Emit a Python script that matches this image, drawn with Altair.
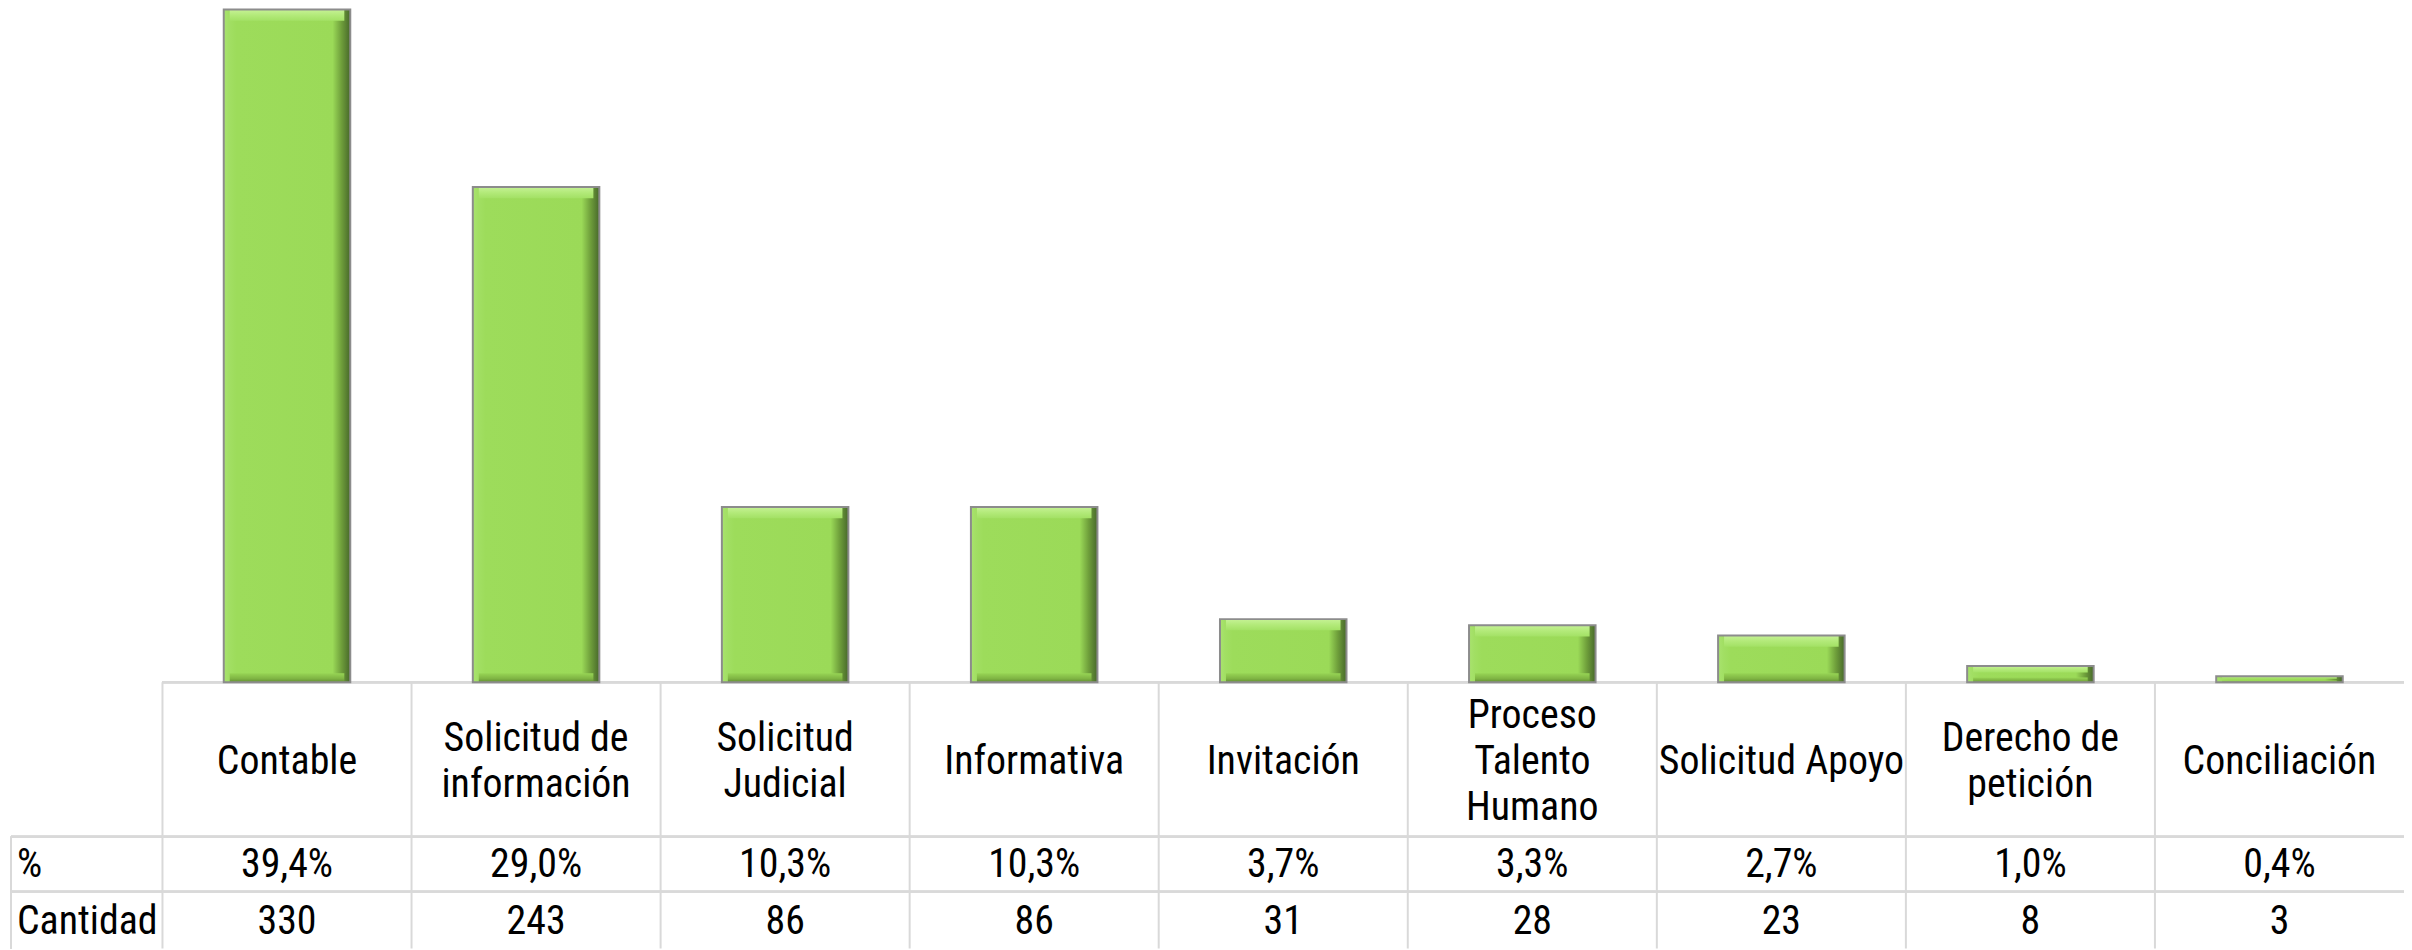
import altair as alt
import pandas as pd

# ---- data ----
categorias = [
    "Contable",
    "Solicitud de\ninformación",
    "Solicitud\nJudicial",
    "Informativa",
    "Invitación",
    "Proceso\nTalento\nHumano",
    "Solicitud Apoyo",
    "Derecho de\npetición",
    "Conciliación",
]
porcentajes = ["39,4%", "29,0%", "10,3%", "10,3%", "3,7%", "3,3%", "2,7%", "1,0%", "0,4%"]
cantidades = [330, 243, 86, 86, 31, 28, 23, 8, 3]
filas = ["%", "Cantidad"]

df = pd.DataFrame({"cat": categorias, "pct": porcentajes, "n": cantidades})

# ---- layout ----
W, H = 2249, 942
PAD_L = 155
AXIS_Y = 675
HDR_BOT = 830
PCT_BOT = 885
LEFT = -152
FONT = "Roboto Condensed"
FS = 40
LH = 46
GRID = "#d9d9d9"

xs = alt.Scale(domain=categorias, paddingInner=0, paddingOuter=0)
ys = alt.Scale(domain=[0, 330], range=[AXIS_Y, 0])
X = alt.X("cat:N", scale=xs, axis=None, sort=categorias)
Y = alt.Y("n:Q", scale=ys, axis=None)

base = alt.Chart(df)


def grad(stops, horizontal=True):
    return alt.LinearGradient(
        gradient="linear",
        stops=[alt.GradientStop(color=c, offset=o) for o, c in stops],
        x1=0, x2=1 if horizontal else 0, y1=0, y2=0 if horizontal else 1,
    )


face = grad([(0, "#a9e36f"), (0.04, "#a2df64"), (0.1, "#9ddc5b"),
             (0.86, "#9bda58"), (0.93, "#6f9f3b"), (1, "#47682a")])
topg = grad([(0, "#c6f296"), (0.5, "#b3ea7a"), (1, "#a3e165")], horizontal=False)
botg = grad([(0, "#97d555"), (0.6, "#7fb443"), (1, "#5f8c31")], horizontal=False)

# table lines
hl_top = alt.Chart(df).mark_rule(color=GRID, strokeWidth=2).encode(
    x=alt.value(0), x2=alt.value(W), y=alt.value(AXIS_Y))
hl_hdr = alt.Chart(df).mark_rule(color=GRID, strokeWidth=2).encode(
    x=alt.value(LEFT), x2=alt.value(W), y=alt.value(HDR_BOT))
hl_pct = alt.Chart(df).mark_rule(color=GRID, strokeWidth=2).encode(
    x=alt.value(LEFT), x2=alt.value(W), y=alt.value(PCT_BOT))
vl_cols = base.mark_rule(color=GRID, strokeWidth=2).encode(
    x=alt.X("cat:N", scale=xs, axis=None, sort=categorias, bandPosition=0),
    y=alt.value(AXIS_Y), y2=alt.value(H))
vl_left = alt.Chart(df).mark_rule(color=GRID, strokeWidth=2).encode(
    x=alt.value(LEFT), y=alt.value(HDR_BOT), y2=alt.value(H))

# bars with bevel look
bar_face = base.mark_bar(width={"band": 0.508}, color=face).encode(x=X, y=Y)
bar_top = base.transform_calculate(t="max(datum.n - 5.5, datum.n * 0.6)").mark_bar(
    width={"band": 0.46}, color=topg).encode(
    x=X, y=Y, y2="t:Q")
bar_bot = base.transform_calculate(b="min(4.5, datum.n * 0.3)").mark_bar(
    width={"band": 0.46}, color=botg).encode(
    x=X, y=alt.Y("b:Q", scale=ys, axis=None))
bar_line = base.mark_bar(width={"band": 0.508}, fillOpacity=0, stroke="#8c8c8c",
                         strokeWidth=2).encode(x=X, y=Y)

txt = dict(font=FONT, fontSize=FS, color="black", baseline="middle")
headers = []
for nl in (1, 2, 3):
    headers.append(
        base.transform_calculate(nl="length(split(datum.cat, '\\n'))")
        .transform_filter(f"datum.nl == {nl}")
        .mark_text(lineBreak="\n", lineHeight=LH, **txt)
        .encode(x=X, y=alt.value(755 - (nl - 1) * LH / 2), text="cat:N")
    )
pct = base.mark_text(**txt).encode(x=X, y=alt.value(858), text="pct:N")
cnt = base.mark_text(**txt).encode(x=X, y=alt.value(916), text="n:Q")
lab_pct = alt.Chart(pd.DataFrame({"fila": [filas[0]]})).mark_text(align="left", **txt).encode(
    x=alt.value(LEFT + 6), y=alt.value(858), text="fila:N")
lab_cnt = alt.Chart(pd.DataFrame({"fila": [filas[1]]})).mark_text(align="left", **txt).encode(
    x=alt.value(LEFT + 6), y=alt.value(916), text="fila:N")

chart = alt.layer(
    hl_top, hl_hdr, hl_pct, vl_cols, vl_left,
    bar_face, bar_top, bar_bot, bar_line,
    *headers, pct, cnt, lab_pct, lab_cnt,
).properties(
    width=W, height=H, autosize="none",
    padding={"left": PAD_L, "top": 0, "right": 0, "bottom": 0},
    background="white",
).configure_view(stroke="transparent")

chart.save("out.html", embed_options={"renderer": "svg", "actions": False})
